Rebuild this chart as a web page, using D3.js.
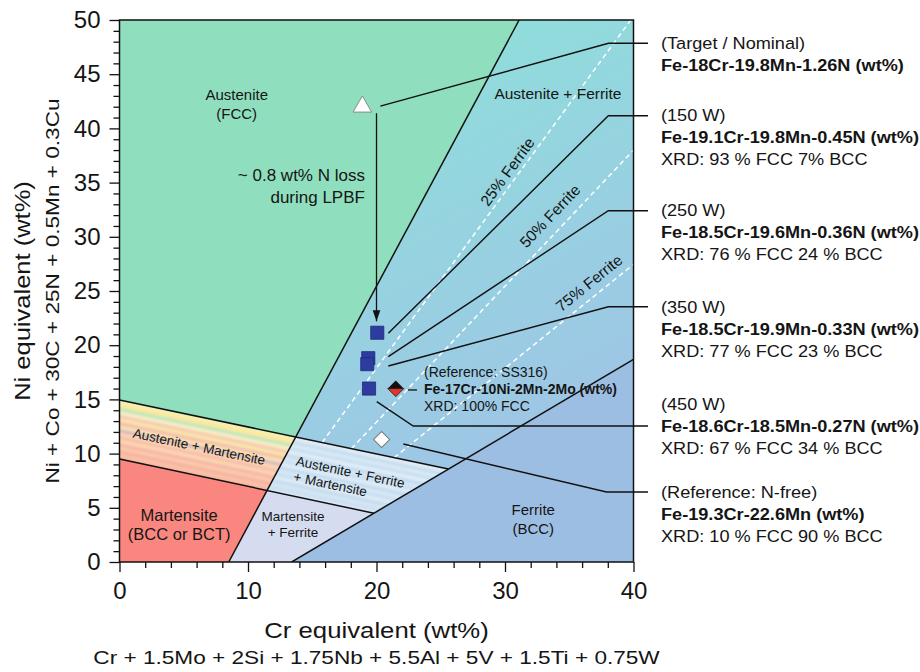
<!DOCTYPE html>
<html>
<head>
<meta charset="utf-8">
<script src="https://cdn.jsdelivr.net/npm/d3@7"></script>
<style>
  body { margin: 0; background: #fff; }
  svg { display: block; }
  text { font-family: "Liberation Sans", Arial, Helvetica, sans-serif; fill: #151515; }
</style>
</head>
<body>
<svg id="chart" width="920" height="672"></svg>
<script>
// ---- Schaeffler-type constitution diagram: Cr equivalent vs Ni equivalent ----

const crDomain = [0, 40];
const niDomain = [0, 50];
const crMajorTicks = [0, 10, 20, 30, 40];
const niMajorTicks = [0, 5, 10, 15, 20, 25, 30, 35, 40, 45, 50];

// Phase boundaries, as two points [Cr_eq, Ni_eq] on each line
const austeniteBoundary = [[8.5, 0], [31.1, 50]];
const upperMartensiteBoundary = [[0, 14.95], [25.3, 8.65]];
const lowerMartensiteBoundary = [[0, 9.5], [19.6, 4.55]];
const ferriteBoundary = [[13.4, 0], [40, 18.7]];

// Iso-ferrite lines (lower point, upper point) and their labels
const isoFerriteLines = [
  [[16.1, 11.56], [39.6, 49.7]],
  [[18.17, 10.61], [39.86, 37.82]],
  [[21.83, 10.06], [39.94, 27.4]]
];
const isoFerriteLabels = ["25% Ferrite", "50% Ferrite", "75% Ferrite"];
const isoFerriteLabelPos = [[30.19, 36.0], [33.5, 31.92], [36.54, 25.74]];

// Compositions plotted as [Cr_eq, Ni_eq]
const targetPoint = [18.9, 42.0];
const buildPowers = ["150 W", "250 W", "350 W", "450 W"];
const buildCr = [20.06, 19.36, 19.28, 19.42];
const buildNi = [21.15, 18.8, 18.25, 16.0];
const nFreePoint = [20.4, 11.3];
const ss316Point = [21.5, 16.0];

// Nitrogen-loss arrow
const nLossArrow = [[20.0, 41.4], [20.0, 22.2]];

// Callout leaders: start near the marker, bend, then run to the label column
const calloutStarts = [[20.3, 42.05], [20.92, 21.1], [20.92, 18.94], [20.92, 18.08], [20.02, 14.79], [22.09, 10.89]];
const calloutBends = [[38.05, 47.85], [38.04, 41.17], [38.04, 32.41], [38.04, 23.55], [22.86, 12.55], [37.9, 6.46]];

const labelHeads = ["(Target / Nominal)", "(150 W)", "(250 W)", "(350 W)", "(450 W)", "(Reference: N-free)"];
const labelAlloys = [
  "Fe-18Cr-19.8Mn-1.26N (wt%)",
  "Fe-19.1Cr-19.8Mn-0.45N (wt%)",
  "Fe-18.5Cr-19.6Mn-0.36N (wt%)",
  "Fe-18.5Cr-19.9Mn-0.33N (wt%)",
  "Fe-18.6Cr-18.5Mn-0.27N (wt%)",
  "Fe-19.3Cr-22.6Mn (wt%)"
];
const labelXrd = [
  null,
  "XRD: 93 % FCC 7% BCC",
  "XRD: 76 % FCC 24 % BCC",
  "XRD: 77 % FCC 23 % BCC",
  "XRD: 67 % FCC 34 % BCC",
  "XRD: 10 % FCC 90 % BCC"
];
const labelLeaderRow = [0, 0, 0, 0, 1, 0];

const ss316Lines = ["(Reference: SS316)", "Fe-17Cr-10Ni-2Mn-2Mo (wt%)", "XRD: 100% FCC"];

// ---- layout ----
const plotLeft = 119.5, plotRight = 633.5, plotTop = 20, plotBottom = 562;
const labelColumnX = 661, leaderEndX = 648, labelLineGap = 22;

const x = d3.scaleLinear().domain(crDomain).range([plotLeft, plotRight]);
const y = d3.scaleLinear().domain(niDomain).range([plotBottom, plotTop]);
const px = p => [x(p[0]), y(p[1])];

const svg = d3.select("#chart");
const defs = svg.append("defs");

function intersect(a, b) {
  const [[x1, y1], [x2, y2]] = a, [[x3, y3], [x4, y4]] = b;
  const d = (x1 - x2) * (y3 - y4) - (y1 - y2) * (x3 - x4);
  const t = ((x1 - x3) * (y3 - y4) - (y1 - y3) * (x3 - x4)) / d;
  return [x1 + t * (x2 - x1), y1 + t * (y2 - y1)];
}

const P1 = intersect(austeniteBoundary, upperMartensiteBoundary);
const P2 = intersect(austeniteBoundary, lowerMartensiteBoundary);
const P3 = intersect(upperMartensiteBoundary, ferriteBoundary);
const P4 = intersect(lowerMartensiteBoundary, ferriteBoundary);

// gradients, clips, filters
const gradAF = defs.append("linearGradient").attr("id", "gradAF")
  .attr("gradientUnits", "userSpaceOnUse")
  .attr("x1", 430).attr("y1", 40).attr("x2", 640).attr("y2", 430);
gradAF.append("stop").attr("offset", 0).attr("stop-color", "#8fdedb");
gradAF.append("stop").attr("offset", 1).attr("stop-color", "#a0c3e7");

defs.append("clipPath").attr("id", "plotClip").append("rect")
  .attr("x", plotLeft).attr("y", plotTop)
  .attr("width", plotRight - plotLeft).attr("height", plotBottom - plotTop);

defs.append("filter").attr("id", "soft")
  .attr("x", "-5%").attr("y", "-5%").attr("width", "110%").attr("height", "110%")
  .append("feGaussianBlur").attr("stdDeviation", 0.8);

const line = d3.line();
const poly = pts => line(pts.map(px)) + "Z";

const regions = [
  { id: "austenite", pts: [[0, 50], austeniteBoundary[1], P1, upperMartensiteBoundary[0]], fill: "#8fdfbe" },
  { id: "austeniteFerrite", pts: [austeniteBoundary[1], [40, 50], ferriteBoundary[1], P3, P1], fill: "url(#gradAF)" },
  { id: "ferrite", pts: [ferriteBoundary[0], [40, 0], ferriteBoundary[1]], fill: "#9dbee3" },
  { id: "austeniteMartensite", pts: [upperMartensiteBoundary[0], P1, P2, lowerMartensiteBoundary[0]], fill: "#f8dcb4" },
  { id: "triplex", pts: [P1, P3, P4, P2], fill: "#cde2f2" },
  { id: "martensite", pts: [lowerMartensiteBoundary[0], P2, austeniteBoundary[0], [0, 0]], fill: "#f9877f" },
  { id: "martensiteFerrite", pts: [P2, P4, ferriteBoundary[0], austeniteBoundary[0]], fill: "#d6dcef" }
];

const plot = svg.append("g").attr("clip-path", "url(#plotClip)");
plot.selectAll("path.region").data(regions).join("path")
  .attr("class", "region").attr("d", d => poly(d.pts)).attr("fill", d => d.fill);

regions.forEach(r => {
  defs.append("clipPath").attr("id", "clip-" + r.id).append("path").attr("d", poly(r.pts));
});

// striped texture in the two-phase / three-phase martensite bands
const [ua, ub] = upperMartensiteBoundary.map(px);
const stripeSlope = (ub[1] - ua[1]) / (ub[0] - ua[0]);
const stripeAngle = Math.atan(stripeSlope) * 180 / Math.PI;
function stripeBand(yOff, h) {
  const xa = plotLeft - 10, xb = plotRight + 10;
  const ya = ua[1] + stripeSlope * (xa - ua[0]), yb = ua[1] + stripeSlope * (xb - ua[0]);
  return `M${xa},${ya + yOff}L${xb},${yb + yOff}L${xb},${yb + yOff + h}L${xa},${ya + yOff + h}Z`;
}
const amStripes = ["#d2ecc2", "#f6efb0", "#fbe89c", "#c2e6c0", "#f6efc0", "#f8cab8", "#f8e6a4",
  "#f5bfb4", "#f9e2ac", "#d6bcc4", "#fcd6ae", "#f7c0b0", "#fbd6ae", "#f6b8aa", "#facaa8", "#f8b4a4", "#f9c2a6", "#f7aea0"];
const triStripes = ["#cfe3f2", "#e0ecf6", "#c6def0", "#d9e9f5", "#c9e0f1", "#e2edf7", "#c4ddf0", "#d6e7f4",
  "#cbe1f2", "#e0ecf6", "#c5ddf0", "#d8e8f4", "#c9e0f1", "#dfebf6", "#c6def0", "#d4e6f3", "#cae0f1", "#dbe9f5"];
const stripeH = 64 / amStripes.length;
[["austeniteMartensite", amStripes], ["triplex", triStripes]].forEach(([id, cols]) => {
  plot.append("g").attr("clip-path", `url(#clip-${id})`)
    .append("g").attr("filter", "url(#soft)")
    .selectAll("path").data(cols).join("path")
    .attr("d", (c, i) => stripeBand(-3 + i * stripeH, stripeH + 0.6))
    .attr("fill", c => c);
});

// iso-ferrite dashed lines
const isoSegments = isoFerriteLines.map(l => {
  const start = intersect(l, upperMartensiteBoundary);
  const slope = (l[1][1] - l[0][1]) / (l[1][0] - l[0][0]);
  const end = [l[1][0] + 2, l[1][1] + 2 * slope];
  return [start, end];
});
plot.selectAll("path.iso").data(isoSegments).join("path")
  .attr("class", "iso").attr("d", d => line(d.map(px)))
  .attr("fill", "none").attr("stroke", "#ffffff").attr("stroke-width", 1.5)
  .attr("stroke-dasharray", "5,3.5");

// phase boundary lines
const boundarySegments = [
  austeniteBoundary,
  [upperMartensiteBoundary[0], P3],
  [lowerMartensiteBoundary[0], P4],
  ferriteBoundary
];
plot.selectAll("path.boundary").data(boundarySegments).join("path")
  .attr("class", "boundary").attr("d", d => line(d.map(px)))
  .attr("fill", "none").attr("stroke", "#111").attr("stroke-width", 1.5);

// iso-ferrite labels, aligned with their lines
isoFerriteLabels.forEach((t, i) => {
  const [a, b] = isoFerriteLines[i].map(px);
  const ang = Math.atan2(b[1] - a[1], b[0] - a[0]) * 180 / Math.PI;
  const [cx, cy] = px(isoFerriteLabelPos[i]);
  svg.append("text").attr("transform", `translate(${cx},${cy}) rotate(${ang})`)
    .attr("text-anchor", "middle").attr("dy", "0.35em").attr("font-size", 15.5).text(t);
});

// phase region labels
function block(pos, lines, size, gap) {
  const [cx, cy] = px(pos);
  const g = svg.append("g").attr("transform", `translate(${cx},${cy})`);
  lines.forEach((t, i) => g.append("text").attr("x", 0).attr("y", i * gap)
    .attr("text-anchor", "middle").attr("dy", "0.35em").attr("font-size", size).text(t));
}
block([9.12, 43.15], ["Austenite", "(FCC)"], 15, 19);
block([34.12, 43.17], ["Austenite + Ferrite"], 15.5, 19);
block([4.64, 4.34], ["Martensite", "(BCC or BCT)"], 16.5, 19.5);
block([13.5, 4.24], ["Martensite", "+ Ferrite"], 13.5, 16.5);
block([32.2, 4.8], ["Ferrite", "(BCC)"], 15, 19);

{
  const [cx, cy] = px([6.2, 10.64]);
  svg.append("text").attr("transform", `translate(${cx},${cy}) rotate(${stripeAngle})`)
    .attr("text-anchor", "middle").attr("dy", "0.35em").attr("font-size", 13.5).text("Austenite + Martensite");
}
{
  const [cx, cy] = px([17.86, 8.33]);
  const g = svg.append("g").attr("transform", `translate(${cx},${cy}) rotate(${stripeAngle})`);
  g.append("text").attr("x", -54).attr("y", 0).attr("dy", "0.35em").attr("font-size", 13.5).text("Austenite + Ferrite");
  g.append("text").attr("x", -53).attr("y", 16).attr("dy", "0.35em").attr("font-size", 13.5).text("+ Martensite");
}

// nitrogen loss annotation
{
  const [ax, ay] = px([19.1, 35.7]);
  svg.append("text").attr("x", ax).attr("y", ay).attr("dy", "0.35em")
    .attr("text-anchor", "end").attr("font-size", 17).text("~ 0.8 wt% N loss");
  svg.append("text").attr("x", ax).attr("y", ay + 22).attr("dy", "0.35em")
    .attr("text-anchor", "end").attr("font-size", 17).text("during LPBF");
}

defs.append("marker").attr("id", "arrowHead")
  .attr("markerUnits", "userSpaceOnUse").attr("markerWidth", 12).attr("markerHeight", 10)
  .attr("viewBox", "0 -5 12 10").attr("refX", 11).attr("refY", 0).attr("orient", "auto")
  .append("path").attr("d", "M0,-3.8L11,0L0,3.8Z").attr("fill", "#111");
svg.append("path").attr("d", line(nLossArrow.map(px)))
  .attr("stroke", "#111").attr("stroke-width", 1.3).attr("fill", "none")
  .attr("marker-end", "url(#arrowHead)");

// callout leaders
const leaders = calloutStarts.map((s, i) => {
  const a = px(s), b = px(calloutBends[i]);
  return [a, b, [leaderEndX, b[1]]];
});
svg.selectAll("path.leader").data(leaders).join("path")
  .attr("class", "leader").attr("d", d => line(d))
  .attr("fill", "none").attr("stroke", "#111").attr("stroke-width", 1.4);

// SS316 reference label with its short dash
{
  const [dx1, dy1] = px([22.45, 15.87]);
  const [dx2] = px([23.15, 15.87]);
  svg.append("line").attr("x1", dx1).attr("x2", dx2).attr("y1", dy1).attr("y2", dy1)
    .attr("stroke", "#111").attr("stroke-width", 1.3);
  const [tx, ty] = px([23.7, 17.55]);
  ss316Lines.forEach((t, i) => svg.append("text").attr("x", tx).attr("y", ty + i * 17.3)
    .attr("dy", "0.35em").attr("font-size", 14).attr("font-weight", i === 1 ? "bold" : "normal").text(t));
}

// markers
const markers = svg.append("g");
markers.append("path")
  .attr("d", d3.symbol(d3.symbolTriangle, 150)())
  .attr("transform", `translate(${px(targetPoint)})`)
  .attr("fill", "#fff").attr("stroke", "#8a8a8a").attr("stroke-width", 1);

markers.selectAll("path.build").data(buildPowers).join("path")
  .attr("class", "build")
  .attr("d", d3.symbol(d3.symbolSquare, 172)())
  .attr("transform", (d, i) => `translate(${x(buildCr[i])},${y(buildNi[i])})`)
  .attr("fill", "#2f3c9f").attr("stroke", "#1f2a78").attr("stroke-width", 0.8);

markers.append("path")
  .attr("d", d3.symbol(d3.symbolSquare, 130)())
  .attr("transform", `translate(${px(nFreePoint)}) rotate(45)`)
  .attr("fill", "#fff").attr("stroke", "#7a7a7a").attr("stroke-width", 1);

{
  const [cx, cy] = px(ss316Point), r = 8;
  markers.append("path").attr("d", `M${cx},${cy - r}L${cx + r},${cy}L${cx - r},${cy}Z`).attr("fill", "#111");
  markers.append("path").attr("d", `M${cx - r},${cy}L${cx + r},${cy}L${cx},${cy + r}Z`)
    .attr("fill", "#e8322a").attr("stroke", "#111").attr("stroke-width", 0.8);
}

// plot frame
svg.append("rect").attr("x", plotLeft).attr("y", plotTop)
  .attr("width", plotRight - plotLeft).attr("height", plotBottom - plotTop)
  .attr("fill", "none").attr("stroke", "#111").attr("stroke-width", 1.5);

// axes
const tickFont = 24;
const xMinor = d3.range(0, 41, 2).filter(v => !crMajorTicks.includes(v));
const yMinor = d3.range(0, 51, 1).filter(v => !niMajorTicks.includes(v));

svg.append("g").attr("transform", `translate(0,${plotBottom})`)
  .call(d3.axisBottom(x).tickValues(crMajorTicks).tickSize(10).tickPadding(10).tickFormat(d3.format("d")));
svg.append("g").attr("transform", `translate(0,${plotBottom})`)
  .call(d3.axisBottom(x).tickValues(xMinor).tickSize(6).tickFormat(""));
svg.append("g").attr("transform", `translate(${plotLeft},0)`)
  .call(d3.axisLeft(y).tickValues(niMajorTicks).tickSize(10).tickPadding(9).tickFormat(d3.format("d")));
svg.append("g").attr("transform", `translate(${plotLeft},0)`)
  .call(d3.axisLeft(y).tickValues(yMinor).tickSize(6).tickFormat(""));
svg.selectAll(".domain").remove();
svg.selectAll(".tick line").attr("stroke", "#111").attr("stroke-width", 1.3);
svg.selectAll(".tick text").attr("font-size", tickFont)
  .attr("font-family", '"Liberation Sans", Arial, sans-serif').attr("fill", "#151515");

// axis titles
const midX = (plotLeft + plotRight) / 2, midY = (plotTop + plotBottom) / 2;
svg.append("text").attr("transform", `translate(${midX},638) scale(1.17,1)`)
  .attr("text-anchor", "middle").attr("font-size", 22).text("Cr equivalent (wt%)");
svg.append("text").attr("transform", `translate(${midX},664) scale(1.19,1)`)
  .attr("text-anchor", "middle").attr("font-size", 19)
  .text("Cr + 1.5Mo + 2Si + 1.75Nb + 5.5Al + 5V + 1.5Ti + 0.75W");
svg.append("text").attr("transform", `translate(30,${midY}) rotate(-90) scale(1.16,1)`)
  .attr("text-anchor", "middle").attr("font-size", 22).text("Ni equivalent (wt%)");
svg.append("text").attr("transform", `translate(58.5,${midY}) rotate(-90) scale(1.19,1)`)
  .attr("text-anchor", "middle").attr("font-size", 19)
  .text("Ni + Co + 30C + 25N + 0.5Mn + 0.3Cu");

// sample labels in the right-hand column
labelHeads.forEach((head, i) => {
  const rows = [head, labelAlloys[i], labelXrd[i]];
  const y0 = y(calloutBends[i][1]) - labelLeaderRow[i] * labelLineGap;
  rows.forEach((t, r) => {
    if (!t) return;
    svg.append("text")
      .attr("transform", `translate(${labelColumnX},${y0 + r * labelLineGap}) scale(1.1,1)`)
      .attr("dy", "0.35em").attr("font-size", 16.5)
      .attr("font-weight", r === 1 ? "bold" : "normal").text(t);
  });
});
</script>
</body>
</html>
